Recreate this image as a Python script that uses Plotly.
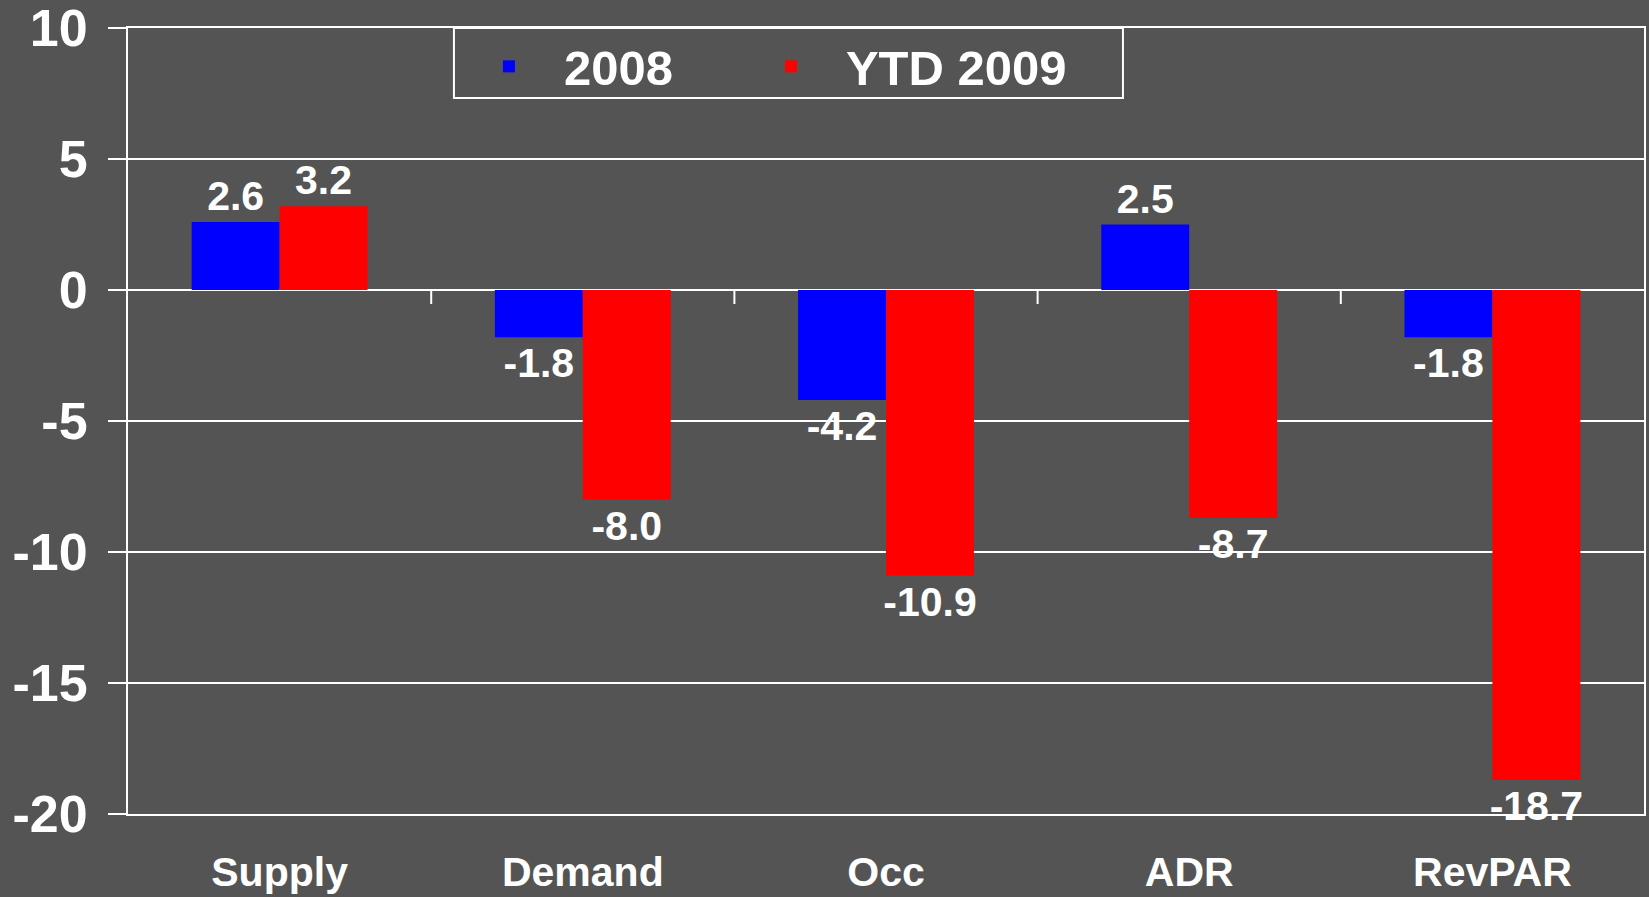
import plotly.graph_objects as go

categories = ["Supply", "Demand", "Occ", "ADR", "RevPAR"]
values_2008 = [2.6, -1.8, -4.2, 2.5, -1.8]
values_ytd2009 = [3.2, -8.0, -10.9, -8.7, -18.7]
y_ticks = [10, 5, 0, -5, -10, -15, -20]

BG = "#545454"
FONT = "Arial, Liberation Sans, sans-serif"
LEGEND_FONT = dict(family=FONT, size=49, color="white", weight="bold")

fig = go.Figure()
fig.add_trace(go.Bar(
    x=categories, y=values_2008, name="2008", legend="legend",
    marker=dict(color="#0000FF", line=dict(width=0)),
    texttemplate="%{y:.1f}", textposition="outside", constraintext="none",
    cliponaxis=False,
    textfont=dict(family=FONT, size=41, color="white", weight="bold"),
))
fig.add_trace(go.Bar(
    x=categories, y=values_ytd2009, name="YTD 2009", legend="legend2",
    marker=dict(color="#FF0000", line=dict(width=0)),
    texttemplate="%{y:.1f}", textposition="outside", constraintext="none",
    cliponaxis=False,
    textfont=dict(family=FONT, size=41, color="white", weight="bold"),
))

# small tick marks at category boundaries on the zero line
for i in range(len(categories) - 1):
    fig.add_shape(type="line", xref="x", yref="y", x0=i + 0.5, x1=i + 0.5,
                  ysizemode="pixel", yanchor=0, y0=0, y1=-14,
                  line=dict(color="white", width=2))

# frame around the legend entries
fig.add_shape(type="rect", xref="paper", yref="paper",
              x0=0.215, x1=0.6563, y0=0.911, y1=1.0,
              line=dict(color="white", width=2), fillcolor="rgba(0,0,0,0)")

fig.update_layout(
    width=1649, height=897,
    paper_bgcolor=BG, plot_bgcolor=BG,
    margin=dict(l=128, r=5, t=28, b=83),
    barmode="group", bargap=0.42, bargroupgap=0,
    showlegend=True,
    legend=dict(
        orientation="h", x=0.215, y=1, xanchor="left", yanchor="top",
        bgcolor="rgba(0,0,0,0)", borderwidth=0,
        font=LEGEND_FONT, itemwidth=100,
    ),
    legend2=dict(
        orientation="h", x=0.401, y=1, xanchor="left", yanchor="top",
        bgcolor="rgba(0,0,0,0)", borderwidth=0,
        font=LEGEND_FONT, itemwidth=100,
    ),
    font=dict(family=FONT, color="white"),
)
fig.update_yaxes(
    range=[-20, 10], tickvals=y_ticks, ticktext=[str(v) for v in y_ticks],
    showgrid=True, gridcolor="white", gridwidth=2,
    zeroline=True, zerolinecolor="white", zerolinewidth=2,
    showline=True, linecolor="white", linewidth=2, mirror=True,
    ticks="outside", ticklen=18, tickwidth=2, tickcolor="white",
    ticklabelstandoff=10, ticklabeloverflow="allow",
    tickfont=dict(family=FONT, size=52, color="white", weight="bold"),
    automargin=False,
)
fig.update_xaxes(
    showline=True, linecolor="white", linewidth=2, mirror=True,
    showgrid=False, ticks="", ticklabelstandoff=21,
    tickfont=dict(family=FONT, size=41, color="white", weight="bold"),
    automargin=False,
)

fig.write_html(
    "out.html",
    config={"displayModeBar": False},
    post_script="document.body.style.margin='0';document.body.style.overflow='hidden';",
)
